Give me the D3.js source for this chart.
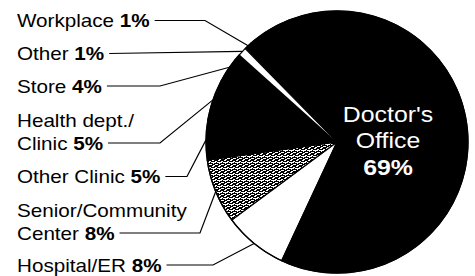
<!DOCTYPE html>
<html>
<head>
<meta charset="utf-8">
<script src="https://cdn.jsdelivr.net/npm/d3@7"></script>
<style>
  body { margin: 0; background: #fff; }
  svg { display: block; }
  text { font-family: "Liberation Sans", Arial, Helvetica, sans-serif; }
</style>
</head>
<body>
<div id="chart"></div>
<script>
// slices, clockwise starting at the Hospital/ER wedge
const places = ["Hospital/ER", "Senior/Community Center", "Other Clinic", "Health dept./Clinic",
                "Store", "Other", "Workplace", "Doctor's Office"];
const shares = [8, 8, 5, 5, 4, 1, 1, 69];
// how each label is broken into lines (last line gets the bold percent)
const labelLines = [["Hospital/ER"], ["Senior/Community", "Center"], ["Other Clinic"],
                    ["Health dept./", "Clinic"], ["Store"], ["Other"], ["Workplace"], ["Doctor's", "Office"]];

// fills per slice
const fills = ["#fff", "url(#stipple)", "#000", "#000", "#000", "#fff", "#000", "#000"];

// label layout: baseline of last line, elbow x of leader (null = straight)
const labelBase = [271.5, 239.5, 183, 149.5, 92.5, 60, 27];
const elbowX = [213, 200, 187, 160, 160, null, 205];

const W = 475, H = 276;
const cx = 337, cy = 142, r = 131;
const lineGap = 22.5;
const sx = 1.18;

const svg = d3.select("#chart").append("svg")
    .attr("width", W).attr("height", H);

// stipple texture for the senior/community slice
const pat = svg.append("defs").append("pattern")
    .attr("id", "stipple")
    .attr("patternUnits", "userSpaceOnUse")
    .attr("width", 6).attr("height", 6);
pat.append("rect").attr("width", 6).attr("height", 6).attr("fill", "#fff");
[[0,0,1,2],[2,1,2,1],[4,0,2,1],[1,3,1,2],[3,3,1,2],[5,2,1,2],[0,5,2,1],[4,5,1,1],[2,4,1,1],
 [1,1,1,1],[3,0,1,1],[4,3,1,1],[0,3,1,1],[5,5,1,1]]
  .forEach(d => pat.append("rect").attr("x", d[0]).attr("y", d[1])
      .attr("width", d[2]).attr("height", d[3]).attr("fill", "#000"));

const start = 205 * Math.PI / 180;
const pie = d3.pie().sort(null).value(d => d)
    .startAngle(start).endAngle(start + 2 * Math.PI);
const arcs = pie(shares);
const arc = d3.arc().innerRadius(0).outerRadius(r);

const g = svg.append("g").attr("transform", `translate(${cx},${cy})`);

g.selectAll("path")
  .data(arcs)
  .join("path")
    .attr("d", arc)
    .attr("fill", (d, i) => fills[i])
    .attr("stroke", (d, i) => i === 5 ? "none" : "#000")
    .attr("stroke-width", 1.2)
    .attr("stroke-linejoin", "round");

// outline of the whole pie
g.append("circle").attr("r", r).attr("fill", "none")
    .attr("stroke", "#000").attr("stroke-width", 1.3);

// left-hand labels with leaders
arcs.slice(0, 7).forEach((d, i) => {
  const lines = labelLines[i];
  const base = labelBase[i];
  const t = svg.append("g")
      .attr("transform", `translate(17,${base}) scale(${sx},1)`);
  let last;
  lines.forEach((ln, k) => {
    const tx = t.append("text")
        .attr("y", -(lines.length - 1 - k) * lineGap)
        .attr("font-size", 17.5)
        .attr("fill", "#000");
    tx.append("tspan").text(ln);
    if (k === lines.length - 1) {
      tx.append("tspan").attr("font-weight", "bold").text(" " + shares[i] + "%");
      last = tx;
    }
  });
  const endText = 17 + last.node().getComputedTextLength() * sx;
  const ly = base - 6.5;
  const mid = (d.startAngle + d.endAngle) / 2;
  const px = cx + r * Math.sin(mid), py = cy - r * Math.cos(mid);
  const pts = [[endText + 5, ly]];
  if (elbowX[i] !== null) pts.push([elbowX[i], ly]);
  pts.push([px, py]);
  svg.append("path")
      .attr("d", d3.line()(pts))
      .attr("fill", "none")
      .attr("stroke", "#000")
      .attr("stroke-width", 1.2);
});

// Doctor's Office label inside the big slice
const doc = svg.append("g").attr("transform", `translate(${cx + 51},122) scale(1.13,1)`);
const docLines = labelLines[7].concat([shares[7] + "%"]);
docLines.forEach((ln, k) => {
  doc.append("text")
      .attr("y", k * 26.5)
      .attr("text-anchor", "middle")
      .attr("font-size", 22)
      .attr("font-weight", k === 2 ? "bold" : "normal")
      .attr("fill", "#fff")
      .text(ln);
});
</script>
</body>
</html>
